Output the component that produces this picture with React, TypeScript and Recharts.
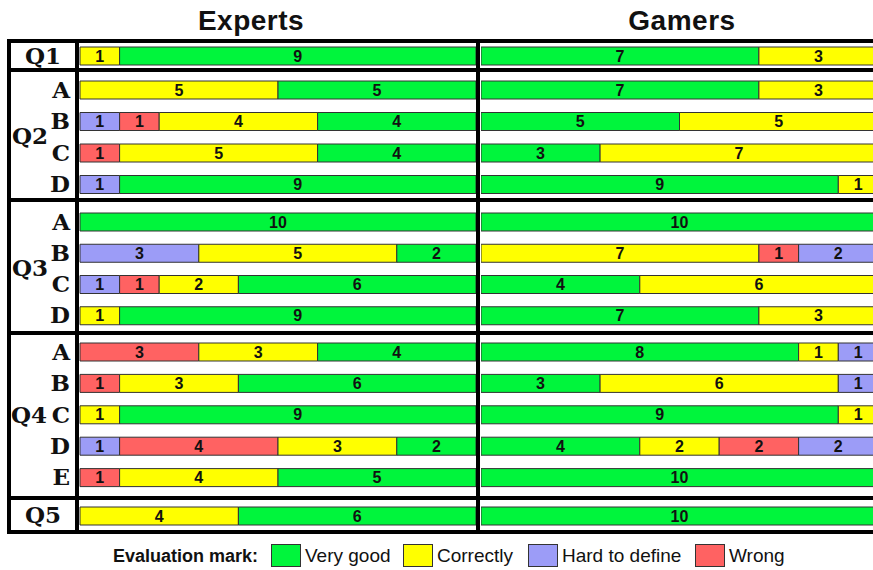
import React from "react";
import { BarChart, Bar, XAxis, YAxis, LabelList } from "recharts";

// ---------- data ----------
const groups = ["Q1", "Q2", "Q3", "Q4", "Q5"];
const rowGroup = ["Q1", "Q2", "Q2", "Q2", "Q2", "Q3", "Q3", "Q3", "Q3", "Q4", "Q4", "Q4", "Q4", "Q4", "Q5"];
const rowLetter = ["", "A", "B", "C", "D", "A", "B", "C", "D", "A", "B", "C", "D", "E", ""];

const expertsVeryGood = [9, 5, 4, 4, 9, 10, 2, 6, 9, 4, 6, 9, 2, 5, 6];
const expertsCorrectly = [1, 5, 4, 5, 0, 0, 5, 2, 1, 3, 3, 1, 3, 4, 4];
const expertsHard = [0, 0, 1, 0, 1, 0, 3, 1, 0, 0, 0, 0, 1, 0, 0];
const expertsWrong = [0, 0, 1, 1, 0, 0, 0, 1, 0, 3, 1, 0, 4, 1, 0];

const gamersVeryGood = [7, 7, 5, 3, 9, 10, 0, 4, 7, 8, 3, 9, 4, 10, 10];
const gamersCorrectly = [3, 3, 5, 7, 1, 0, 7, 6, 3, 1, 6, 1, 2, 0, 0];
const gamersHard = [0, 0, 0, 0, 0, 0, 2, 0, 0, 1, 1, 0, 2, 0, 0];
const gamersWrong = [0, 0, 0, 0, 0, 0, 1, 0, 0, 0, 0, 0, 2, 0, 0];

const legendLabels = ["Very good", "Correctly", "Hard to define", "Wrong"];

// ---------- styles ----------
const COLORS = {
  veryGood: "#00f53c",
  correctly: "#ffff00",
  hard: "#9c9cf7",
  wrong: "#ff6262",
};

const layout: Record<string, { top: number; h: number; mt: number; mb: number }> = {
  Q1: { top: 43, h: 25, mt: 0, mb: 0 },
  Q2: { top: 72, h: 126, mt: 2, mb: -2 },
  Q3: { top: 202, h: 129, mt: 4, mb: 0 },
  Q4: { top: 335, h: 162, mt: 1, mb: 4 },
  Q5: { top: 500, h: 30, mt: 1, mb: 0 },
};

function buildRows(vg: number[], co: number[], hd: number[], wr: number[]) {
  return rowGroup.map((g, i) => ({
    group: g,
    row: g + rowLetter[i],
    letter: rowLetter[i],
    veryGood: vg[i],
    correctly: co[i],
    hard: hd[i],
    wrong: wr[i],
  }));
}

const expertsRows = buildRows(expertsVeryGood, expertsCorrectly, expertsHard, expertsWrong);
const gamersRows = buildRows(gamersVeryGood, gamersCorrectly, gamersHard, gamersWrong);

const hideZero = (v: any) => (v ? v : "");

const labelProps = {
  position: "center" as const,
  fill: "#111",
  fontSize: 16,
  fontWeight: "bold",
  fontFamily: "Liberation Sans, Arial, sans-serif",
  formatter: hideZero,
};

function segment(key: string, color: string, stack: string) {
  return (
    <Bar
      key={key}
      dataKey={key}
      stackId={stack}
      fill={color}
      stroke="#333"
      strokeWidth={1}
      isAnimationActive={false}
    >
      <LabelList dataKey={key} {...labelProps} />
    </Bar>
  );
}

const LetterTick = (props: any) => {
  const { y, payload } = props;
  const letter = String(payload.value).slice(2);
  return (
    <text
      x={59}
      y={y + 8}
      textAnchor="end"
      fontFamily="DejaVu Serif, serif"
      fontWeight="bold"
      fontSize={23}
      fill="#111"
    >
      {letter}
    </text>
  );
};

function PanelChart({ group, which }: { group: string; which: "experts" | "gamers" }) {
  const L = layout[group];
  const data = (which === "experts" ? expertsRows : gamersRows).filter((r) => r.group === group);
  const left = which === "experts" ? 11 : 481;
  const width = which === "experts" ? 465 : 397;
  const order =
    which === "experts"
      ? [
          ["hard", COLORS.hard],
          ["wrong", COLORS.wrong],
          ["correctly", COLORS.correctly],
          ["veryGood", COLORS.veryGood],
        ]
      : [
          ["veryGood", COLORS.veryGood],
          ["correctly", COLORS.correctly],
          ["wrong", COLORS.wrong],
          ["hard", COLORS.hard],
        ];
  return (
    <div style={{ position: "absolute", left, top: L.top, width, height: L.h }}>
      <BarChart
        width={width}
        height={L.h}
        data={data}
        layout="vertical"
        margin={{ top: L.mt, right: 0, bottom: L.mb, left: 0 }}
        barSize={18}
        barCategoryGap={0}
      >
        <XAxis type="number" domain={[0, 10]} hide />
        {which === "experts" ? (
          <YAxis
            type="category"
            dataKey="row"
            width={69}
            tickLine={false}
            axisLine={false}
            interval={0}
            tick={<LetterTick />}
          />
        ) : (
          <YAxis type="category" dataKey="row" hide />
        )}
        {order.map(([k, c]) => segment(k, c, which))}
      </BarChart>
    </div>
  );
}

const black = "#000";

export default function App() {
  const hLines = [39, 68, 198, 331, 496, 530];
  const groupLabelStyle: React.CSSProperties = {
    position: "absolute",
    fontFamily: "DejaVu Serif, serif",
    fontWeight: "bold",
    fontSize: 23,
    color: "#111",
    lineHeight: "24px",
  };
  const titleStyle: React.CSSProperties = {
    position: "absolute",
    width: 200,
    top: 5,
    textAlign: "center",
    fontFamily: "Liberation Sans, Arial, sans-serif",
    fontWeight: "bold",
    fontSize: 28,
    letterSpacing: 0.5,
    color: "#111",
  };
  const legendColors = [COLORS.veryGood, COLORS.correctly, COLORS.hard, COLORS.wrong];
  const legendBoxX = [271, 403, 528, 695];
  return (
    <div
      style={{
        position: "absolute",
        left: 0,
        top: 0,
        width: 873,
        height: 570,
        overflow: "hidden",
        background: "#fff",
      }}
    >
      <div style={{ ...titleStyle, left: 151 }}>Experts</div>
      <div style={{ ...titleStyle, left: 582 }}>Gamers</div>

      {groups.map((g) => (
        <React.Fragment key={g}>
          <PanelChart group={g} which="experts" />
          <PanelChart group={g} which="gamers" />
        </React.Fragment>
      ))}

      {/* group labels */}
      <div style={{ ...groupLabelStyle, left: 11, width: 64, textAlign: "center", top: 44 }}>Q1</div>
      <div style={{ ...groupLabelStyle, left: 12, top: 124 }}>Q2</div>
      <div style={{ ...groupLabelStyle, left: 12, top: 256 }}>Q3</div>
      <div style={{ ...groupLabelStyle, left: 11, top: 403 }}>Q4</div>
      <div style={{ ...groupLabelStyle, left: 11, width: 64, textAlign: "center", top: 503 }}>Q5</div>

      {/* frame lines */}
      {hLines.map((y) => (
        <div key={y} style={{ position: "absolute", left: 7, width: 880, top: y, height: 4, background: black }} />
      ))}
      <div style={{ position: "absolute", left: 7, top: 39, width: 4, height: 495, background: black }} />
      <div style={{ position: "absolute", left: 75, top: 39, width: 4, height: 495, background: black }} />
      <div style={{ position: "absolute", left: 476, top: 39, width: 4, height: 495, background: black }} />

      {/* legend */}
      <div
        style={{
          position: "absolute",
          left: 113,
          top: 545,
          fontFamily: "Liberation Sans, Arial, sans-serif",
          fontWeight: "bold",
          fontSize: 18,
          color: "#111",
          lineHeight: "22px",
        }}
      >
        Evaluation mark:
      </div>
      {legendLabels.map((lab, i) => (
        <React.Fragment key={lab}>
          <div
            style={{
              position: "absolute",
              left: legendBoxX[i],
              top: 544,
              width: 28,
              height: 21,
              background: legendColors[i],
              border: "1px solid #333",
            }}
          />
          <div
            style={{
              position: "absolute",
              left: legendBoxX[i] + 34,
              top: 545,
              fontFamily: "Liberation Sans, Arial, sans-serif",
              fontSize: 19,
              color: "#111",
              lineHeight: "22px",
            }}
          >
            {lab}
          </div>
        </React.Fragment>
      ))}
    </div>
  );
}
